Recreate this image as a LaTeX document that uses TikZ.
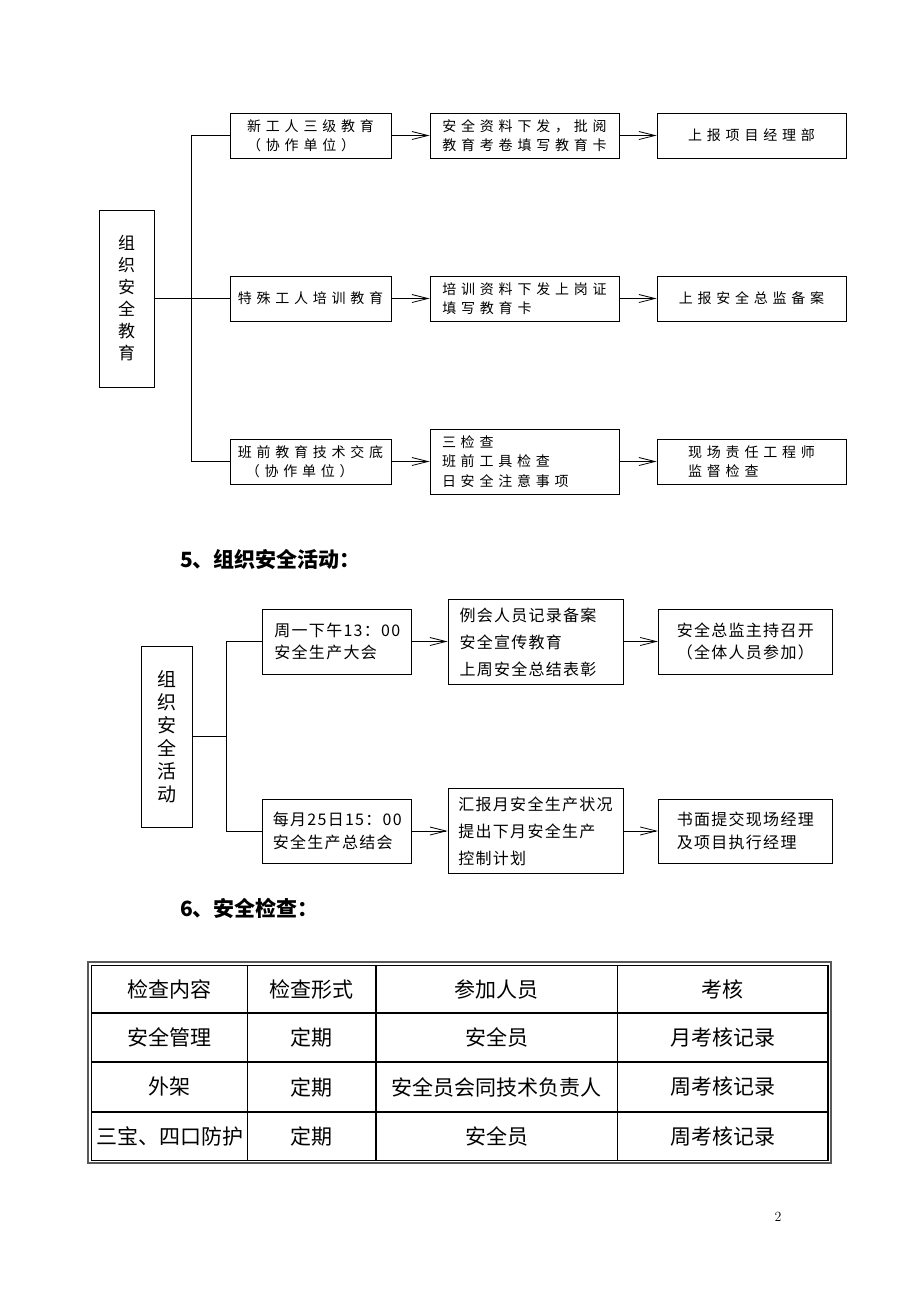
\documentclass[tikz,border=0pt]{standalone}
\usepackage{fontspec}
\usetikzlibrary{arrows.meta}
\newfontfamily\cjk{Noto Sans CJK SC}
\newfontfamily\cjksp[LetterSpace=34]{Noto Sans CJK SC}
\newfontfamily\cjkspb[LetterSpace=8]{Noto Sans CJK SC}
\begin{document}
\begin{tikzpicture}[x=1pt,y=-1pt,
  box1/.style={draw,line width=0.9pt,inner sep=0pt,font=\cjksp\fontsize{14}{18.8}\selectfont},
  box2/.style={draw,line width=0.9pt,inner sep=0pt,font=\cjkspb\fontsize{16}{22.3}\selectfont},
  sidebox/.style={draw,line width=0.9pt,inner sep=0pt,align=center},
  link/.style={line width=0.8pt},
  arr/.style={line width=0.8pt,-{Straight Barb[length=16pt,width=8pt,line width=0.8pt]}},
  cell/.style={font=\cjk\fontsize{21}{21}\selectfont,inner sep=0pt},
  head/.style={font=\cjk\bfseries\fontsize{21}{21}\selectfont,inner sep=0pt,anchor=west},
  tline/.style={line width=1.2pt}]
\fill[white] (0,0) rectangle (920,1302);
\useasboundingbox (0,0) rectangle (920,1302);

% ---------- section 1 ----------
\node[sidebox,minimum width=55pt,minimum height=177pt,font=\cjk\fontsize{17}{22}\selectfont] (L1) at (126.5,298.5) {组\\织\\安\\全\\教\\育};

\node[box1,minimum width=161pt,minimum height=45pt,align=left] (A1) at (310.5,135.5) {新工人三级教育\\（协作单位）};
\node[box1,minimum width=189pt,minimum height=45pt,align=center] (A2) at (524.5,135.5) {安全资料下发，批阅\\教育考卷填写教育卡};
\node[box1,minimum width=189pt,minimum height=45pt] (A3) at (751.5,135.5) {上报项目经理部};

\node[box1,minimum width=161pt,minimum height=45pt] (B1) at (310.5,298.5) {特殊工人培训教育};
\node[box1,minimum width=189pt,minimum height=45pt,align=left] (B2) at (524.5,298.5) {培训资料下发上岗证\\填写教育卡};
\node[box1,minimum width=189pt,minimum height=45pt] (B3) at (751.5,298.5) {上报安全总监备案};

\node[box1,minimum width=161pt,minimum height=45pt,align=left] (C1) at (310.5,461.5) {班前教育技术交底\\\hspace*{8pt}（协作单位）};
\node[box1,minimum height=65pt,text width=165pt,inner xsep=12pt,align=left,font=\cjksp\fontsize{14}{19.5}\selectfont] (C2) at (524.5,461.5) {三检查\\班前工具检查\\日安全注意事项};
\node[box1,minimum width=189pt,minimum height=45pt,align=left] (C3) at (751.5,461.5) {现场责任工程师\\监督检查};

\draw[link] (L1.east) -- (B1.west);
\draw[link] (A1.west) -- ++(-38,0) |- (C1.west);
\draw[arr] (A1) -- (A2);
\draw[arr] (A2) -- (A3);
\draw[arr] (B1) -- (B2);
\draw[arr] (B2) -- (B3);
\draw[arr] (C1) -- (C2);
\draw[arr] (C2) -- (C3);

% ---------- heading 5 ----------
\node[head] (H5) at (180,559) {5、组织安全活动：};

% ---------- section 2 ----------
\node[sidebox,minimum width=51pt,minimum height=181pt,font=\cjk\fontsize{19}{23}\selectfont] (L2) at (166.5,736.5) {组\\织\\安\\全\\活\\动};

\node[box2,minimum width=149pt,minimum height=65pt,align=left] (D1) at (337.3,641.5) {周一下午13：00\\安全生产大会};
\node[box2,minimum height=85pt,text width=152pt,inner xsep=11.5pt,align=left,font=\cjkspb\fontsize{16}{27}\selectfont] (D2) at (535.5,642) {例会人员记录备案\\安全宣传教育\\上周安全总结表彰};
\node[box2,minimum width=174pt,minimum height=65pt,align=center,font=\cjkspb\fontsize{16}{21.6}\selectfont] (D3) at (745.3,641.5) {安全总监主持召开\\（全体人员参加）};

\node[box2,minimum width=149pt,minimum height=64pt,align=left,font=\cjkspb\fontsize{16}{23.3}\selectfont] (E1) at (337.3,831) {每月25日15：00\\安全生产总结会};
\node[box2,minimum width=175pt,minimum height=85pt,align=left,font=\cjkspb\fontsize{16}{27}\selectfont] (E2) at (535.5,831.3) {汇报月安全生产状况\\提出下月安全生产\\控制计划};
\node[box2,minimum width=174pt,minimum height=64pt,align=left,font=\cjkspb\fontsize{16}{22.7}\selectfont] (E3) at (745.3,831) {书面提交现场经理\\及项目执行经理};

\coordinate (T2) at (227,736.5);
\draw[link] (L2.east) -- (T2);
\draw[link] (D1.west) -- ++(-35.7,0) |- (E1.west);
\draw[arr] (D1.east) -- (D1.east -| D2.west);
\draw[arr] (D2.east |- D3.west) -- (D3.west);
\draw[arr] (E1.east) -- (E1.east -| E2.west);
\draw[arr] (E2.east |- E3.west) -- (E3.west);

% ---------- heading 6 ----------
\node[head] (H6) at (180,908) {6、安全检查：};

% ---------- table ----------
\draw[line width=2pt,black!65] (88,962) rectangle (831,1163);
\draw[tline] (91.5,965.5) rectangle (828,1160.5);
\foreach \x in {247.5,376,617.5} \draw[tline] (\x,965.5) -- (\x,1160.5);
\foreach \y in {1013,1062,1112} \draw[tline] (91.5,\y) -- (828,\y);

\node[cell] (t11) at (169.5,989.25) {检查内容};
\node[cell] (t12) at (311.75,989.25) {检查形式};
\node[cell] (t13) at (496.75,989.25) {参加人员};
\node[cell] (t14) at (722.75,989.25) {考核};

\node[cell] (t21) at (169.5,1037.5) {安全管理};
\node[cell] (t22) at (311.75,1037.5) {定期};
\node[cell] (t23) at (496.75,1037.5) {安全员};
\node[cell] (t24) at (722.75,1037.5) {月考核记录};

\node[cell] (t31) at (169.5,1087) {外架};
\node[cell] (t32) at (311.75,1087) {定期};
\node[cell] (t33) at (496.75,1087) {安全员会同技术负责人};
\node[cell] (t34) at (722.75,1087) {周考核记录};

\node[cell] (t41) at (169.5,1136.25) {三宝、四口防护};
\node[cell] (t42) at (311.75,1136.25) {定期};
\node[cell] (t43) at (496.75,1136.25) {安全员};
\node[cell] (t44) at (722.75,1136.25) {周考核记录};

% ---------- page number ----------
\node[font=\rmfamily\fontsize{14}{14}\selectfont,inner sep=0pt] (pg) at (778,1217) {2};
\end{tikzpicture}
\end{document}
